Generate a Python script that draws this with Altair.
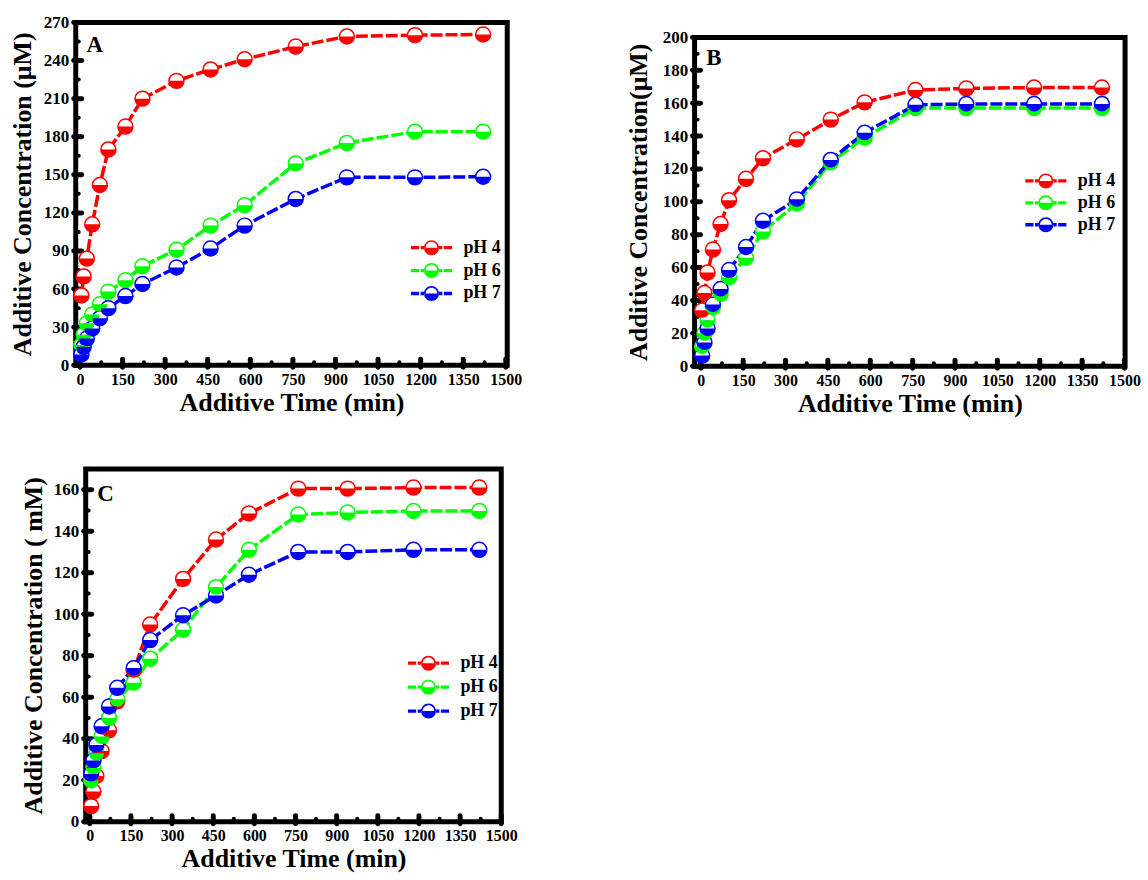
import altair as alt
import pandas as pd

FONT = "Liberation Serif"

TIMES = [5, 13, 24, 43, 70, 100, 160, 220, 340, 460, 580, 760, 940, 1180, 1420]
SERIES = ["pH 4", "pH 6", "pH 7"]
COLORS = ["#FF0000", "#00FF00", "#0000FF"]

A_PH4 = [55, 70, 84, 111, 142, 170, 188, 210, 224, 233, 241, 251, 259, 260, 260.5]
A_PH6 = [16, 24, 33, 40, 48, 58, 67, 78, 91, 110, 126, 159, 175, 184, 184]
A_PH7 = [8.5, 14.5, 21, 29, 37, 45, 54.5, 64, 77, 92, 110, 131, 148, 148, 148.5]

B_PH4 = [34, 44.5, 57, 71, 86.5, 101, 114, 126.5, 138, 150, 160.5, 168, 169, 169.5, 169.5]
B_PH6 = [12, 20, 28, 36, 44, 54, 66, 82, 99, 124, 139, 157, 157, 157, 157]
B_PH7 = [6.5, 14.5, 23, 37.5, 47, 58.5, 72.5, 88.5, 101.5, 125.5, 142, 159, 159.5, 159.5, 159.5]

C_PH4 = [7.5, 14.5, 22, 34, 44, 58, 73, 95, 117, 136, 148.5, 160.5, 160.5, 161, 161]
C_PH6 = [20, 26, 33, 41, 50, 59, 67, 78.5, 92.5, 113, 131, 148, 149, 149.7, 149.7]
C_PH7 = [23, 29.5, 37, 46, 55.5, 64.5, 74, 87.5, 99.5, 109, 119, 130, 130, 131, 131]

X_MAJOR = list(range(0, 1501, 150))
X_MINOR = list(range(75, 1500, 150))
A_Y_MAJOR = list(range(0, 271, 30))
A_Y_MINOR = list(range(15, 270, 30))
B_Y_MAJOR = list(range(0, 201, 20))
B_Y_MINOR = list(range(10, 200, 20))
C_Y_MAJOR = list(range(0, 161, 20))
C_Y_MINOR = list(range(10, 171, 20))

HALF = "M -1 0 A 1 1 0 0 0 1 0 Z"
LEG = ("M -1 0 A 1 1 0 0 1 1 0 L 0.78 0 A 0.78 0.78 0 0 0 -0.78 0 Z "
       "M -1 0 A 1 1 0 0 0 1 0 Z "
       "M -1.45 -0.22 L -0.95 -0.22 L -0.95 0.22 L -1.45 0.22 Z "
       "M 0.95 -0.22 L 1.45 -0.22 L 1.45 0.22 L 0.95 0.22 Z "
       "M -2.75 -0.22 L -1.65 -0.22 L -1.65 0.22 L -2.75 0.22 Z "
       "M 1.65 -0.22 L 2.75 -0.22 L 2.75 0.22 L 1.65 0.22 Z")


def make_axis(title, values, fs, pad, tpad):
    return alt.Axis(title=title, values=values, format="d", ticks=False, domain=False,
                    grid=False, labelFont=FONT, labelFontWeight="bold", labelFontSize=fs,
                    labelColor="black", labelPadding=pad, labelFlush=False,
                    labelOverlap=False, titleFont=FONT, titleFontWeight="bold",
                    titleFontSize=26, titleColor="black", titlePadding=tpad)


def panel(letter, series_vals, ytitle, ydomain, ymaj, ymin, xdomain, W, H,
          leg_xy, row_pad, letter_xy, ytpad):
    rows = []
    for name, vals in zip(SERIES, series_vals):
        for t, v in zip(TIMES, vals):
            rows.append({"t": t, "v": v, "s": name})
    df = pd.DataFrame(rows)
    xax = make_axis("Additive Time (min)", X_MAJOR, 16, 6, 2)
    yax = make_axis(ytitle, ymaj, 17, 7, ytpad)
    xenc = alt.X("t:Q", scale=alt.Scale(domain=xdomain, nice=False, zero=False), axis=xax)
    yenc = alt.Y("v:Q", scale=alt.Scale(domain=ydomain, nice=False, zero=False), axis=yax)
    cscale = alt.Scale(domain=SERIES, range=COLORS)
    legend = alt.Legend(title=None, orient="none", legendX=leg_xy[0], legendY=leg_xy[1],
                        symbolType=LEG, symbolSize=225, symbolStrokeWidth=0,
                        symbolOpacity=1, labelFont=FONT, labelFontWeight="bold",
                        labelFontSize=18, labelColor="black", labelOffset=23,
                        rowPadding=row_pad, padding=0)

    xt_maj = alt.Chart(pd.DataFrame({"t": X_MAJOR})).mark_rule(
        strokeWidth=5, strokeCap="round", color="black").encode(
        x=xenc, y=alt.value(H + 2), y2=alt.value(H - 6))
    xt_min = alt.Chart(pd.DataFrame({"t": X_MINOR})).mark_rule(
        strokeWidth=4, strokeCap="round", color="black").encode(
        x=xenc, y=alt.value(H), y2=alt.value(H - 3))
    yt_maj = alt.Chart(pd.DataFrame({"v": ymaj})).mark_rule(
        strokeWidth=5, strokeCap="round", color="black").encode(
        y=yenc, x=alt.value(-2), x2=alt.value(6))
    yt_min = alt.Chart(pd.DataFrame({"v": ymin})).mark_rule(
        strokeWidth=4, strokeCap="round", color="black").encode(
        y=yenc, x=alt.value(0), x2=alt.value(3))

    base = alt.Chart(df)
    lines = base.mark_line(strokeWidth=3.5, strokeDash=[12, 3]).encode(
        x=xenc, y=yenc, stroke=alt.Stroke("s:N", scale=cscale, legend=legend))
    circles = base.mark_point(shape="circle", filled=True, fill="white", size=225,
                              strokeWidth=1.5, opacity=1).encode(
        x=xenc, y=yenc, stroke=alt.Stroke("s:N", scale=cscale, legend=legend))
    halves = base.mark_point(shape=HALF, filled=True, size=225, strokeWidth=0,
                             opacity=1).encode(
        x=xenc, y=yenc, fill=alt.Fill("s:N", scale=cscale, legend=legend))
    lbl = alt.Chart(pd.DataFrame({"k": [letter]})).mark_text(
        font=FONT, fontWeight="bold", fontSize=23, color="black",
        align="center", baseline="middle").encode(
        text="k:N", x=alt.value(letter_xy[0]), y=alt.value(letter_xy[1]))
    return alt.layer(xt_min, xt_maj, yt_min, yt_maj, lines, circles, halves, lbl).properties(
        width=W, height=H)


def spacer(w, h):
    return alt.Chart(pd.DataFrame({"z": [0]})).mark_point(opacity=0, size=1).properties(
        width=w, height=h, view=alt.ViewBackground(stroke="transparent", strokeWidth=0))


A = panel("A", [A_PH4, A_PH6, A_PH7], "Additive Concentration (\u03bcM)", [0, 270],
          A_Y_MAJOR, A_Y_MINOR, [-15, 1505], 433, 344, (348, 217), 5, (19, 23), 8)
B = panel("B", [B_PH4, B_PH6, B_PH7], "Additive Concentration(\u03bcM)", [0, 200],
          B_Y_MAJOR, B_Y_MINOR, [-22, 1502], 432, 330, (343.5, 135), 4, (19.5, 20.5), 11)
C = panel("C", [C_PH4, C_PH6, C_PH7], "Additive Concentration ( mM)", [0, 170],
          C_Y_MAJOR, C_Y_MINOR, [-15, 1500], 417, 354, (335, 186), 6, (20, 25), 7)

IND = dict(color="independent", fill="independent", stroke="independent")


def indep(ch):
    return ch.resolve_scale(**IND).resolve_legend(**IND)


bcol = indep(alt.vconcat(spacer(1, 1), B, spacing=14, bounds="flush"))
row1 = indep(alt.hconcat(A, bcol, spacing=188, bounds="flush"))
row2 = indep(alt.hconcat(spacer(1, 1), C, spacing=9, bounds="flush"))
chart = indep(alt.vconcat(row1, row2, spacing=45)).properties(
    padding={"left": 7, "top": 9, "right": 5, "bottom": 5},
    background="white",
).configure_view(stroke="black", strokeWidth=5)

chart.save("out.html", embed_options={"renderer": "svg", "actions": False})
